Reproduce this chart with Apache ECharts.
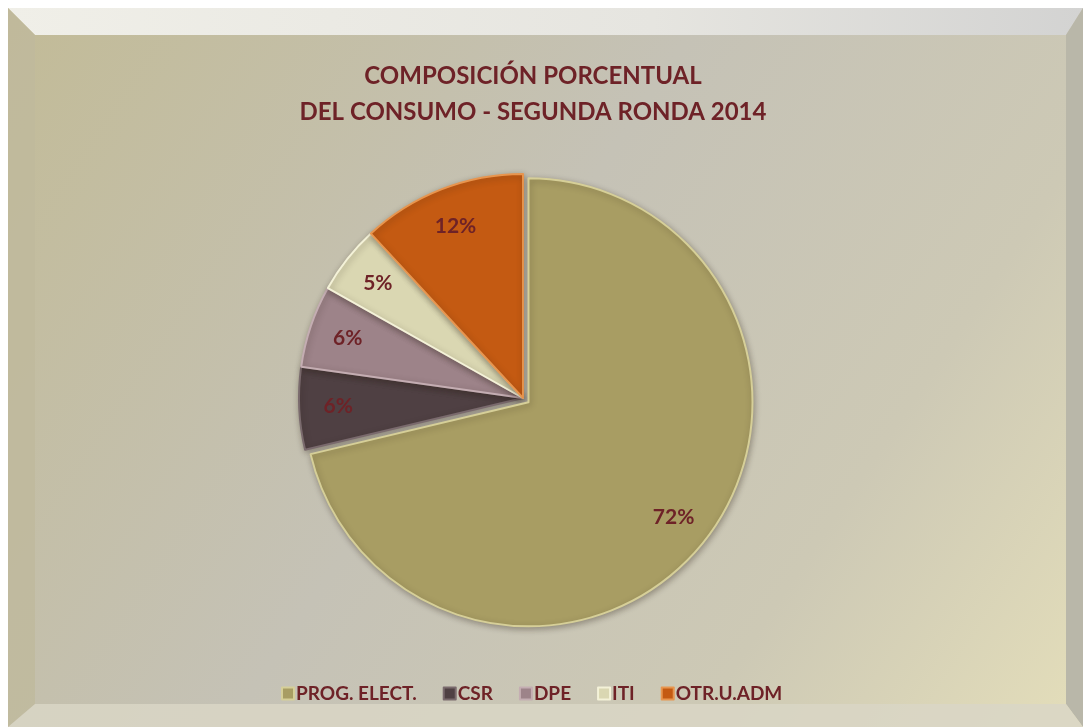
<!DOCTYPE html>
<html>
<head>
<meta charset="utf-8">
<script src="https://cdn.jsdelivr.net/npm/echarts@6/dist/echarts.min.js"></script>
<style>
  html, body { margin: 0; padding: 0; background: #fff; }
  #chart { width: 1083px; height: 727px; }
</style>
</head>
<body>
<div id="chart"></div>
<script>
// categories and values (percent of consumption)
const categories = ['PROG. ELECT.', 'CSR', 'DPE', 'ITI', 'OTR.U.ADM']
const values = [72, 6, 6, 5, 12]
const colors = ['#a89d63', '#4f4043', '#9d8389', '#dad7b2', '#c45a12']
const edgeColors = ['#d6cf98', '#7a6a6d', '#c4adb2', '#f4f2d8', '#e8954e']

const titleColor = '#6e2227'

const chart = echarts.init(document.getElementById('chart'))

const pieData = categories.map((name, i) => ({
    name,
    value: values[i],
    selected: i === 0,
    itemStyle: {
        color: colors[i],
        borderColor: edgeColors[i],
        borderWidth: 2
    }
}))

const option = {
    backgroundColor: '#ffffff',
    graphic: [
        {
            type: 'rect',
            z: -10,
            shape: { x: 8, y: 8, width: 1075, height: 719 },
            style: {
                fill: new echarts.graphic.LinearGradient(0, 0, 1, 1, [
                    { offset: 0, color: '#c2bb97' },
                    { offset: 0.45, color: '#c5c2b6' },
                    { offset: 0.75, color: '#cdc9b5' },
                    { offset: 1, color: '#e4deba' }
                ])
            }
        },
        {
            type: 'polygon',
            z: -9,
            shape: { points: [[8, 8], [1083, 8], [1066, 35], [35, 35]] },
            style: {
                fill: new echarts.graphic.LinearGradient(0, 0, 1, 0, [
                    { offset: 0, color: '#f0efe8' },
                    { offset: 0.6, color: '#e6e5e0' },
                    { offset: 1, color: '#d3d3d2' }
                ])
            }
        },
        {
            type: 'polygon',
            z: -9,
            shape: { points: [[8, 8], [35, 35], [35, 704], [8, 727]] },
            style: { fill: '#bfb99c', opacity: 0.8 }
        },
        {
            type: 'polygon',
            z: -9,
            shape: { points: [[1083, 8], [1083, 727], [1066, 704], [1066, 35]] },
            style: { fill: '#b9b7a9' }
        },
        {
            type: 'polygon',
            z: -9,
            shape: { points: [[8, 727], [1083, 727], [1066, 704], [35, 704]] },
            style: { fill: '#d9d6c6', opacity: 0.85 }
        }
    ],
    title: {
        text: 'COMPOSICIÓN PORCENTUAL\nDEL CONSUMO - SEGUNDA RONDA 2014',
        left: 528,
        textAlign: 'center',
        top: 53,
        textStyle: {
            fontFamily: 'Lato',
            fontWeight: 'bold',
            fontSize: 24,
            lineHeight: 36,
            color: titleColor
        }
    },
    legend: {
        bottom: 19,
        left: 276,
        icon: 'rect',
        itemWidth: 12,
        itemHeight: 12,
        itemGap: 26,
        selectedMode: false,
        data: categories,
        textStyle: {
            fontFamily: 'Lato',
            fontWeight: 'bold',
            fontSize: 19,
            color: titleColor,
            padding: [0, 0, 0, -3]
        }
    },
    series: [
        {
            type: 'pie',
            center: [523, 398],
            radius: 224,
            startAngle: 90,
            clockwise: true,
            selectedMode: 'single',
            selectedOffset: 7,
            silent: true,
            label: { show: false },
            labelLine: { show: false },
            itemStyle: {
                shadowBlur: 6,
                shadowColor: 'rgba(40,30,20,0.35)',
                shadowOffsetX: 1,
                shadowOffsetY: 2
            },
            data: pieData
        },
        {
            // label carrier: transparent ring so that inside labels sit near the rim
            type: 'pie',
            center: [523, 398],
            radius: [140, 224],
            startAngle: 90,
            clockwise: true,
            selectedMode: 'single',
            selectedOffset: 7,
            silent: true,
            itemStyle: { color: 'transparent' },
            labelLine: { show: false },
            label: {
                show: true,
                position: 'inside',
                formatter: '{c}%',
                fontFamily: 'Lato',
                fontWeight: 'bold',
                fontSize: 21,
                color: titleColor
            },
            data: categories.map((name, i) => ({ name, value: values[i], selected: i === 0 }))
        }
    ]
}

chart.setOption(option)
</script>
</body>
</html>
